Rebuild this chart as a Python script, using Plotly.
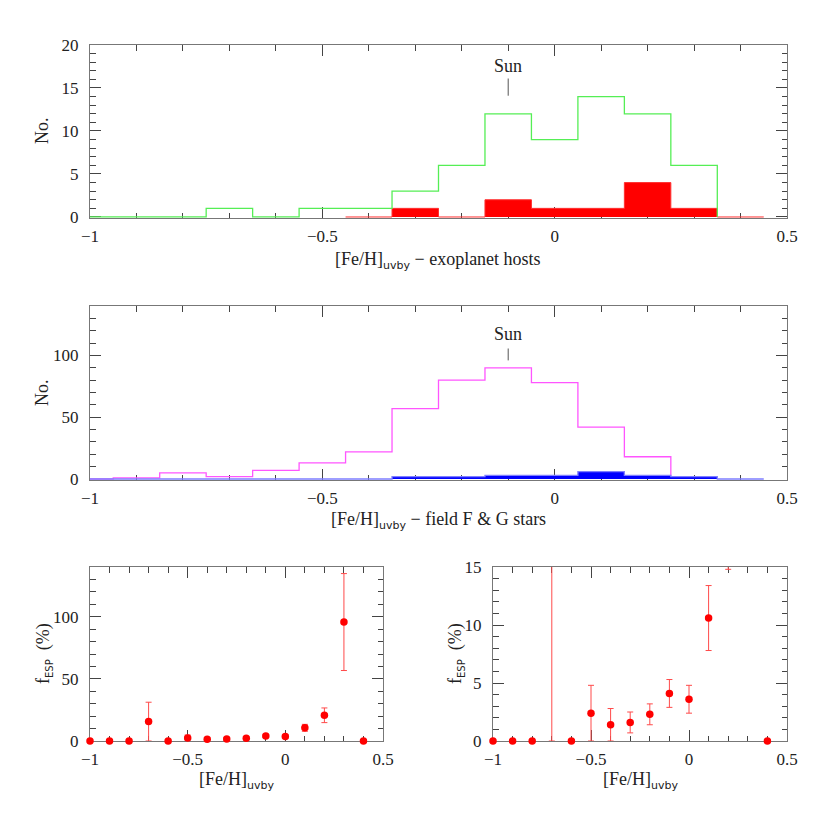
import numpy as np
import plotly.graph_objects as go

# ---------------- data ----------------
# top panel: exoplanet hosts (green outline) and red filled subset
host_centers = [-1.0, -0.9, -0.8, -0.7, -0.6, -0.5, -0.4, -0.3, -0.2, -0.1, 0.0, 0.1, 0.2, 0.3]
host_counts = [0, 0, 0, 1, 0, 1, 1, 3, 6, 12, 9, 14, 12, 6]
red_centers = [-0.4, -0.3, -0.2, -0.1, 0.0, 0.1, 0.2, 0.3, 0.4]
red_counts = [0, 1, 0, 2, 1, 1, 4, 1, 0]

# middle panel: field F & G stars (magenta outline) and blue filled
field_centers = [-1.0, -0.9, -0.8, -0.7, -0.6, -0.5, -0.4, -0.3, -0.2, -0.1, 0.0, 0.1, 0.2]
field_counts = [0, 1, 5, 2, 7, 13, 22, 57, 80, 90, 78, 42, 18]
blue_centers = [-1.0, -0.9, -0.8, -0.7, -0.6, -0.5, -0.4, -0.3, -0.2, -0.1, 0.0, 0.1, 0.2, 0.3, 0.4]
blue_counts = [0, 0, 0, 0, 0, 0, 0, 2, 2, 3, 3, 6, 3, 2, 0]

# bottom panels: f_ESP (%)
feh_points = [-1.0, -0.9, -0.8, -0.7, -0.6, -0.5, -0.4, -0.3, -0.2, -0.1, 0.0, 0.1, 0.2, 0.3, 0.4]
f_esp = [0, 0, 0, 15.6, 0, 2.4, 1.4, 1.6, 2.3, 4.1, 3.6, 10.6, 20.7, 95.7, 0]
f_err = [0, 0, 0, 15.6, 0, 2.4, 1.4, 0.9, 0.9, 1.2, 1.2, 2.8, 5.9, 39.0, 0]

SUN_FEH = -0.1
BIN_W = 0.1

# ---------------- helpers ----------------
W = H = 830
OFF = 8  # page body margin
FONT = "Liberation Serif"
TXT = "#222222"
FRAME = "#777777"
TICKC = "#444444"


def step_xy(centers, counts):
    c = np.asarray(centers, float)
    n = np.asarray(counts, float)
    edges = np.append(c - BIN_W / 2, c[-1] + BIN_W / 2)
    xs = [edges[0]] + list(edges[:-1]) + [edges[-1], edges[-1]]
    ys = [0.0] + list(n) + [n[-1], 0.0]
    return xs, ys


def px(x):
    return (x - OFF) / W


def py(y):
    return 1 - (y - OFF) / H


fig = go.Figure()

# top panel
gx, gy = step_xy(host_centers, host_counts)
rx, ry = step_xy(red_centers, red_counts)
fig.add_trace(go.Scatter(x=rx, y=ry, mode="lines", line=dict(color="#ff3030", width=1, shape="hv"),
                         fill="tozeroy", fillcolor="#ff0000", xaxis="x", yaxis="y", hoverinfo="skip"))
fig.add_trace(go.Scatter(x=gx, y=gy, mode="lines", line=dict(color="#55ee55", width=1.3, shape="hv"),
                         xaxis="x", yaxis="y", hoverinfo="skip"))

# middle panel
mx, my = step_xy(field_centers, field_counts)
bx, by = step_xy(blue_centers, blue_counts)
fig.add_trace(go.Scatter(x=mx, y=my, mode="lines", line=dict(color="#ff55ff", width=1.3, shape="hv"),
                         xaxis="x2", yaxis="y2", hoverinfo="skip"))
fig.add_trace(go.Scatter(x=bx, y=by, mode="lines", line=dict(color="#7f7fff", width=1.3, shape="hv"),
                         fill="tozeroy", fillcolor="#0000ff", xaxis="x2", yaxis="y2", hoverinfo="skip"))

# bottom panels
fe = np.asarray(feh_points)
fv = np.asarray(f_esp)
fr = np.asarray(f_err)
for xa, ya, ymax in (("x3", "y3", 140), ("x4", "y4", 15)):
    fig.add_trace(go.Scatter(x=fe, y=fv, mode="markers", marker=dict(size=0.1, color="rgba(0,0,0,0)"),
                             error_y=dict(type="data", array=fr, visible=True, color="#ff4a4a",
                                          thickness=1, width=3),
                             cliponaxis=True, xaxis=xa, yaxis=ya, hoverinfo="skip"))
    m = fv <= ymax
    fig.add_trace(go.Scatter(x=fe[m], y=fv[m], mode="markers",
                             marker=dict(size=7.5, color="#ff0000", line=dict(width=0)),
                             cliponaxis=False, xaxis=xa, yaxis=ya, hoverinfo="skip"))

# ---------------- axes ----------------
def xax(domain, anchor):
    return dict(domain=domain, anchor=anchor, range=[-1, 0.5], dtick=0.5, tick0=0,
                ticks="inside", ticklen=11, tickwidth=1, tickcolor=TICKC,
                minor=dict(ticks="inside", ticklen=5.5, dtick=0.1, tick0=0, tickcolor=TICKC, tickwidth=1),
                showline=True, linecolor=FRAME, linewidth=1, mirror="allticks",
                showgrid=False, zeroline=False, layer="below traces", automargin=False,
                tickfont=dict(family=FONT, size=17, color=TXT), ticklabelstandoff=3)


def yax(domain, anchor, rng, dt, mdt):
    return dict(domain=domain, anchor=anchor, range=rng, dtick=dt, tick0=0,
                ticks="inside", ticklen=11, tickwidth=1, tickcolor=TICKC,
                minor=dict(ticks="inside", ticklen=5.5, dtick=mdt, tick0=0, tickcolor=TICKC, tickwidth=1),
                showline=True, linecolor=FRAME, linewidth=1, mirror="allticks",
                showgrid=False, zeroline=False, layer="below traces", automargin=False,
                tickfont=dict(family=FONT, size=17, color=TXT), ticklabelstandoff=7)


dx_full = [px(90), px(787)]
dy_top = [py(218), py(45)]
dy_mid = [py(480), py(306)]
dy_bot = [py(741), py(567)]
dx_bl = [px(90), px(383)]
dx_br = [px(493), px(787)]

fig.update_layout(
    width=W, height=H, margin=dict(l=0, r=0, t=0, b=0, pad=0), autosize=False,
    paper_bgcolor="white", plot_bgcolor="white", showlegend=False,
    xaxis=xax(dx_full, "y"), yaxis=yax(dy_top, "x", [-0.12, 20], 5, 1),
    xaxis2=xax(dx_full, "y2"), yaxis2=yax(dy_mid, "x2", [-0.8, 140], 50, 10),
    xaxis3=xax(dx_bl, "y3"), yaxis3=yax(dy_bot, "x3", [0, 140], 50, 10),
    xaxis4=xax(dx_br, "y4"), yaxis4=yax(dy_bot, "x4", [0, 15], 5, 1),
)

FE = "[Fe/H]<sub><span style='font-family:DejaVu Sans;font-size:11px'>uvby</span></sub>"
FESP = "f<sub><span style='font-family:DejaVu Sans;font-size:10px'>ESP</span></sub>  (%)"

ann = []


def add_text(text, x, y, angle=0, size=18):
    ann.append(dict(text=text, x=px(x), y=py(y), xref="paper", yref="paper", showarrow=False,
                    textangle=angle, font=dict(family=FONT, size=size, color=TXT),
                    xanchor="center", yanchor="middle"))


add_text(FE + " − exoplanet hosts", 438, 260)
add_text(FE + " − field F &amp; G stars", 438, 520)
add_text(FE, 236, 780)
add_text(FE, 640, 780)
add_text("No.", 42, 131, angle=-90)
add_text("No.", 42, 393, angle=-90)
add_text(FESP, 44, 654, angle=-90)
add_text(FESP, 456, 654, angle=-90)

# Sun markers
ann.append(dict(text="Sun", x=SUN_FEH, y=17.6, xref="x", yref="y", showarrow=False,
                font=dict(family=FONT, size=18, color=TXT)))
ann.append(dict(text="Sun", x=SUN_FEH, y=117.5, xref="x2", yref="y2", showarrow=False,
                font=dict(family=FONT, size=18, color=TXT)))
fig.update_layout(annotations=ann)
fig.add_shape(type="line", x0=SUN_FEH, x1=SUN_FEH, y0=14.1, y1=16.1, xref="x", yref="y",
              line=dict(color="#555555", width=1))
fig.add_shape(type="line", x0=SUN_FEH, x1=SUN_FEH, y0=96, y1=105.6, xref="x2", yref="y2",
              line=dict(color="#555555", width=1))

fig.write_html("out.html")
